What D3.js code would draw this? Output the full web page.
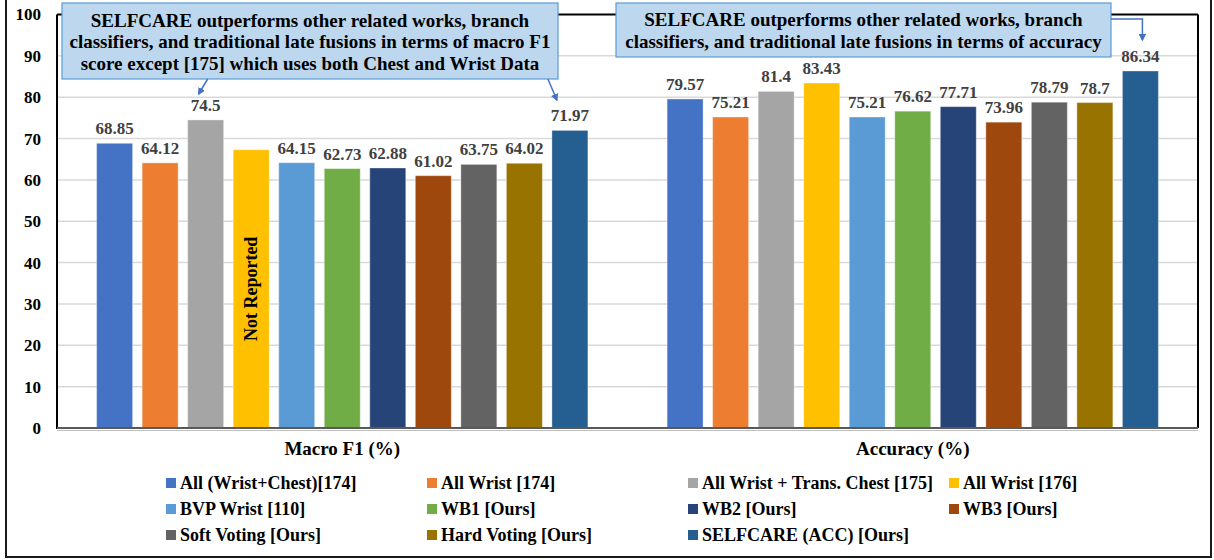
<!DOCTYPE html>
<html>
<head>
<meta charset="utf-8">
<script src="https://cdn.jsdelivr.net/npm/d3@7"></script>
<style>
  html, body { margin: 0; padding: 0; background: #ffffff; }
  svg { display: block; }
  text { font-family: "Liberation Serif", "Times New Roman", serif; font-weight: bold; }
</style>
</head>
<body>
<svg id="chart" width="1214" height="560"></svg>
<script>
// Metric groups on the x axis
const groups = ["Macro F1 (%)", "Accuracy (%)"];

// Methods compared (one bar per method in each group)
const methods = [
  "All (Wrist+Chest)[174]",
  "All Wrist [174]",
  "All Wrist + Trans. Chest [175]",
  "All Wrist [176]",
  "BVP Wrist [110]",
  "WB1 [Ours]",
  "WB2 [Ours]",
  "WB3 [Ours]",
  "Soft Voting [Ours]",
  "Hard Voting [Ours]",
  "SELFCARE (ACC) [Ours]"
];

const colors = [
  "#4472C4", "#ED7D31", "#A5A5A5", "#FFC000", "#5B9BD5", "#70AD47",
  "#264478", "#9E480E", "#636363", "#997300", "#255E91"
];

// Macro F1 scores; null = not reported in the source paper
const macroF1 = [68.85, 64.12, 74.5, null, 64.15, 62.73, 62.88, 61.02, 63.75, 64.02, 71.97];
// Height of the placeholder bar drawn for the unreported value
const notReportedBarHeight = 67.3;

// Accuracy scores
const accuracy = [79.57, 75.21, 81.4, 83.43, 75.21, 76.62, 77.71, 73.96, 78.79, 78.7, 86.34];

const yTicks = [0, 10, 20, 30, 40, 50, 60, 70, 80, 90, 100];

const calloutLeft = [
  "SELFCARE outperforms other related works, branch",
  "classifiers, and traditional late fusions in terms of macro F1",
  "score except [175] which uses both Chest and Wrist Data"
];
const calloutRight = [
  "SELFCARE outperforms other related works, branch",
  "classifiers, and traditional late fusions in terms of accuracy"
];

const svg = d3.select("#chart");

const plot = { left: 57, right: 1198, top: 14.5, bottom: 428 };

const x0 = d3.scaleBand().domain(groups).range([plot.left, plot.right]).padding(0);
const x1 = d3.scaleBand().domain(d3.range(methods.length))
  .range([0, x0.bandwidth()]).paddingInner(0.21).paddingOuter(0.87);
const y = d3.scaleLinear().domain([0, 100]).range([plot.bottom, plot.top]);

const seriesByGroup = [macroF1, accuracy];

// Outer frame
const frame = svg.append("g").attr("fill", "none").attr("stroke", "#1a1a1a").attr("stroke-width", 2);
frame.append("line").attr("x1", 6).attr("y1", 0).attr("x2", 6).attr("y2", 557);
frame.append("line").attr("x1", 1211).attr("y1", 0).attr("x2", 1211).attr("y2", 557);
frame.append("line").attr("x1", 5).attr("y1", 557).attr("x2", 1212).attr("y2", 557);

// Gridlines
svg.append("g")
  .selectAll("line")
  .data(yTicks.filter(t => t > 0 && t < 100))
  .join("line")
  .attr("x1", plot.left).attr("x2", plot.right)
  .attr("y1", d => y(d)).attr("y2", d => y(d))
  .attr("stroke", "#D9D9D9").attr("stroke-width", 1.5);

// Y axis labels
const yAxis = d3.axisLeft(y).tickValues(yTicks).tickSize(0).tickPadding(16).tickFormat(d3.format("d"));
const yg = svg.append("g").attr("transform", `translate(${plot.left},0)`).call(yAxis);
yg.select(".domain").remove();
yg.selectAll("text")
  .attr("font-size", 17).attr("fill", "#000")
  .attr("font-family", "Liberation Serif, Times New Roman, serif")
  .attr("font-weight", "bold");

// Bars
const barData = [];
groups.forEach((g, gi) => {
  seriesByGroup[gi].forEach((v, i) => {
    barData.push({ group: g, i, value: v, h: v === null ? notReportedBarHeight : v });
  });
});

const bars = svg.append("g");
bars.selectAll("rect")
  .data(barData)
  .join("rect")
  .attr("x", d => x0(d.group) + x1(d.i))
  .attr("width", x1.bandwidth())
  .attr("y", d => y(d.h))
  .attr("height", d => y(0) - y(d.h))
  .attr("fill", d => colors[d.i])
  .attr("stroke", "rgba(255,255,255,0.35)")
  .attr("stroke-width", 1);

// Value labels
svg.append("g")
  .selectAll("text")
  .data(barData.filter(d => d.value !== null))
  .join("text")
  .attr("x", d => x0(d.group) + x1(d.i) + x1.bandwidth() / 2)
  .attr("y", d => y(d.value) - 9)
  .attr("text-anchor", "middle")
  .attr("font-size", 17)
  .attr("fill", "#404040")
  .text(d => d3.format("")(d.value));

// "Not Reported" inside the placeholder bar
barData.filter(d => d.value === null).forEach(d => {
  const cx = x0(d.group) + x1(d.i) + x1.bandwidth() / 2;
  const cy = (y(d.h) + y(0)) / 2;
  svg.append("text")
    .attr("transform", `translate(${cx},${cy}) rotate(-90)`)
    .attr("text-anchor", "middle")
    .attr("dominant-baseline", "central")
    .attr("font-size", 18)
    .attr("fill", "#000")
    .text("Not Reported");
});

// Plot frame: left axis, top and right borders, bottom axis
svg.append("line").attr("x1", plot.left).attr("x2", plot.right).attr("y1", plot.top).attr("y2", plot.top)
  .attr("stroke", "#000").attr("stroke-width", 2);
svg.append("line").attr("x1", plot.right).attr("x2", plot.right).attr("y1", plot.top).attr("y2", plot.bottom)
  .attr("stroke", "#000").attr("stroke-width", 2);
svg.append("line").attr("x1", plot.left).attr("x2", plot.left).attr("y1", plot.top).attr("y2", plot.bottom + 1)
  .attr("stroke", "#000").attr("stroke-width", 2);
svg.append("line").attr("x1", plot.left).attr("x2", plot.right).attr("y1", plot.bottom).attr("y2", plot.bottom)
  .attr("stroke", "#595959").attr("stroke-width", 2);
svg.append("line").attr("x1", plot.left).attr("x2", plot.right).attr("y1", plot.bottom + 2.5).attr("y2", plot.bottom + 2.5)
  .attr("stroke", "#BFBFBF").attr("stroke-width", 1);

// Category labels
svg.append("g")
  .selectAll("text")
  .data(groups)
  .join("text")
  .attr("x", d => x0(d) + x0.bandwidth() / 2)
  .attr("y", 455)
  .attr("text-anchor", "middle")
  .attr("font-size", 19)
  .attr("fill", "#000")
  .text(d => d);

// Legend: 4 columns, row-major
const legend = svg.append("g");
const legendCols = 4, colStep = 261, rowStep = 26, legendX = 166, legendY = 489;
methods.forEach((m, i) => {
  const c = i % legendCols, r = Math.floor(i / legendCols);
  const gx = legendX + c * colStep, gy = legendY + r * rowStep;
  legend.append("rect")
    .attr("x", gx).attr("y", gy - 11).attr("width", 10).attr("height", 10)
    .attr("fill", colors[i]);
  legend.append("text")
    .attr("x", gx + 14).attr("y", gy)
    .attr("font-size", 18).attr("fill", "#000")
    .text(m);
});

// Callouts
const arrowColor = "#4472C4";
svg.append("defs").append("marker")
  .attr("id", "arrowhead")
  .attr("viewBox", "0 0 10 10")
  .attr("refX", 8).attr("refY", 5)
  .attr("markerWidth", 5).attr("markerHeight", 5)
  .attr("orient", "auto-start-reverse")
  .append("path").attr("d", "M0,0 L10,5 L0,10 Z").attr("fill", arrowColor);

function barCenter(group, i) {
  return x0(group) + x1(i) + x1.bandwidth() / 2;
}

function callout(x, yTop, w, h, lines, baseline0, lineGap) {
  const g = svg.append("g");
  g.append("rect")
    .attr("x", x).attr("y", yTop).attr("width", w).attr("height", h)
    .attr("fill", "#BDD7EE").attr("stroke", "#5B9BD5").attr("stroke-width", 1.2);
  g.selectAll("text").data(lines).join("text")
    .attr("x", x + w / 2)
    .attr("y", (d, i) => baseline0 + i * lineGap)
    .attr("text-anchor", "middle")
    .attr("font-size", 19)
    .attr("fill", "#000")
    .text(d => d);
}

callout(62, 3, 496, 76, calloutLeft, 26.5, 21.5);
callout(616, 3, 495, 54, calloutRight, 26, 21.5);

// Arrows from the left callout to the [175] and SELFCARE macro F1 bars
const c3 = barCenter(groups[0], 2);
svg.append("line")
  .attr("x1", c3 + 2).attr("y1", 79).attr("x2", c3 - 7).attr("y2", 94)
  .attr("stroke", arrowColor).attr("stroke-width", 1.5).attr("marker-end", "url(#arrowhead)");
const c11 = barCenter(groups[0], 10);
svg.append("line")
  .attr("x1", c11 - 22).attr("y1", 79).attr("x2", c11 - 13).attr("y2", 100)
  .attr("stroke", arrowColor).attr("stroke-width", 1.5).attr("marker-end", "url(#arrowhead)");

// Elbow arrow from the right callout to the SELFCARE accuracy bar
const c22 = barCenter(groups[1], 10);
svg.append("path")
  .attr("d", `M1111,19 H${c22 + 2} V40`)
  .attr("fill", "none")
  .attr("stroke", arrowColor).attr("stroke-width", 1.5).attr("marker-end", "url(#arrowhead)");
</script>
</body>
</html>
